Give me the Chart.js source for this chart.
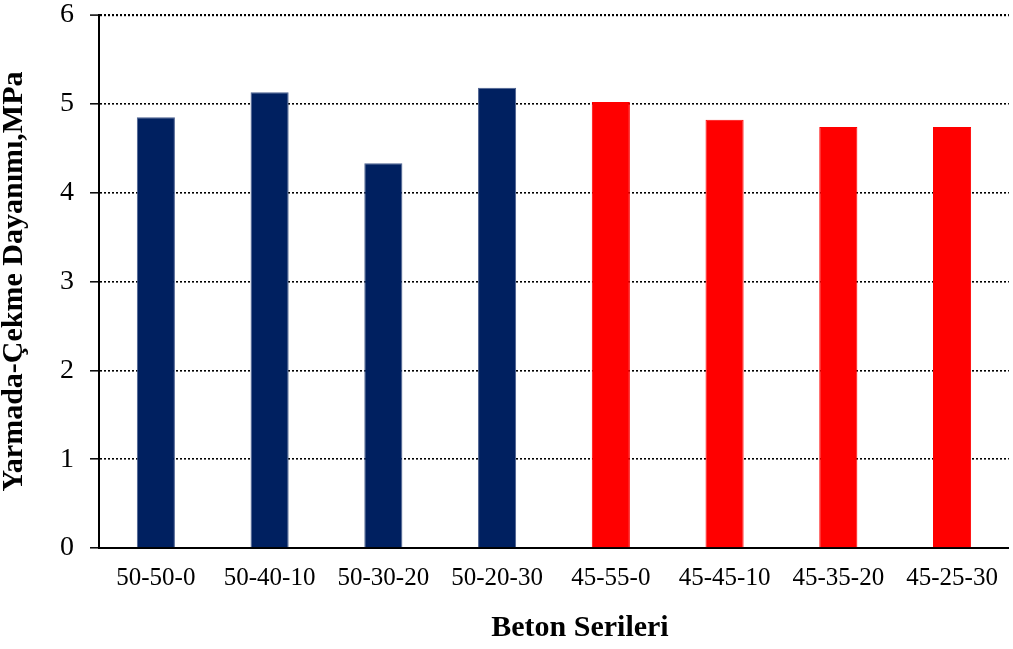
<!DOCTYPE html>
<html>
<head>
<meta charset="utf-8">
<script src="https://cdn.jsdelivr.net/npm/chart.js@4"></script>
<style>
  html, body { margin: 0; padding: 0; background: #ffffff; }
  #wrap { width: 1013px; height: 649px; }
</style>
</head>
<body>
<div id="wrap"><canvas id="chart" width="1013" height="649"></canvas></div>
<script>
// Concrete series (binder ratios) and splitting tensile strength, MPa
const categories = ['50-50-0', '50-40-10', '50-30-20', '50-20-30',
                    '45-55-0', '45-45-10', '45-35-20', '45-25-30'];
const strength = [4.85, 5.13, 4.33, 5.18, 5.02, 4.82, 4.74, 4.74];
const yTicks = [0, 1, 2, 3, 4, 5, 6];
const xTitle = 'Beton Serileri';
const yTitle = 'Yarmada-Çekme Dayanımı,MPa';

const NAVY = '#002060';
const RED = '#ff0000';
const serif = '"Liberation Serif", "Times New Roman", serif';

const fills = categories.map(c => c.startsWith('50') ? NAVY : RED);
const edges = categories.map(c => c.startsWith('50') ? '#4a5f8f' : RED);

// x-axis caption, set a little right of the plot centre
const xCaption = {
  id: 'xCaption',
  afterDraw(chart) {
    const { ctx, chartArea } = chart;
    ctx.save();
    ctx.font = 'bold 30px ' + serif;
    ctx.fillStyle = '#000000';
    ctx.textAlign = 'center';
    ctx.textBaseline = 'middle';
    ctx.fillText(xTitle, (chartArea.left + chartArea.right) / 2 + 26, chart.height - 21);
    ctx.restore();
  }
};

new Chart(document.getElementById('chart'), {
  type: 'bar',
  data: {
    labels: categories,
    datasets: [{
      data: strength,
      backgroundColor: fills,
      borderColor: edges,
      borderWidth: 1,
      categoryPercentage: 1.0,
      barPercentage: 0.335
    }]
  },
  plugins: [xCaption],
  options: {
    responsive: false,
    animation: false,
    layout: { padding: { top: 0, right: 2, bottom: 0, left: 0 } },
    plugins: { legend: { display: false }, tooltip: { enabled: false } },
    scales: {
      x: {
        grid: { display: false, drawTicks: false },
        border: { display: true, color: '#000000', width: 2 },
        ticks: {
          color: '#000000',
          font: { family: serif, size: 25 },
          padding: 15,
          maxRotation: 0,
          autoSkip: false
        },
        title: { display: false },
        afterFit: s => { s.height = 101; }
      },
      y: {
        min: 0,
        max: 6,
        afterBuildTicks: s => { s.ticks = yTicks.map(v => ({ value: v })); },
        grid: {
          color: '#000000',
          lineWidth: ctx => (ctx.tick && ctx.tick.value === 6 ? 2.2 : 1.6),
          drawTicks: true,
          tickLength: 9,
          tickColor: '#000000',
          tickWidth: 1.5,
          tickBorderDash: []
        },
        border: { display: true, color: '#000000', width: 2, dash: [2, 2] },
        ticks: {
          color: '#000000',
          font: { family: serif, size: 28, lineHeight: 1.0 },
          padding: 16
        },
        title: {
          display: true,
          text: yTitle,
          color: '#000000',
          font: { family: serif, size: 30, weight: 'bold', lineHeight: 0.9 },
          padding: { top: 1, bottom: 0 }
        },
        afterFit: s => {
          s.width = 99;
          // keep only half a label of headroom above the top tick
          s.paddingTop = 15;
          s.paddingBottom = 14;
        }
      }
    }
  }
});
</script>
</body>
</html>
